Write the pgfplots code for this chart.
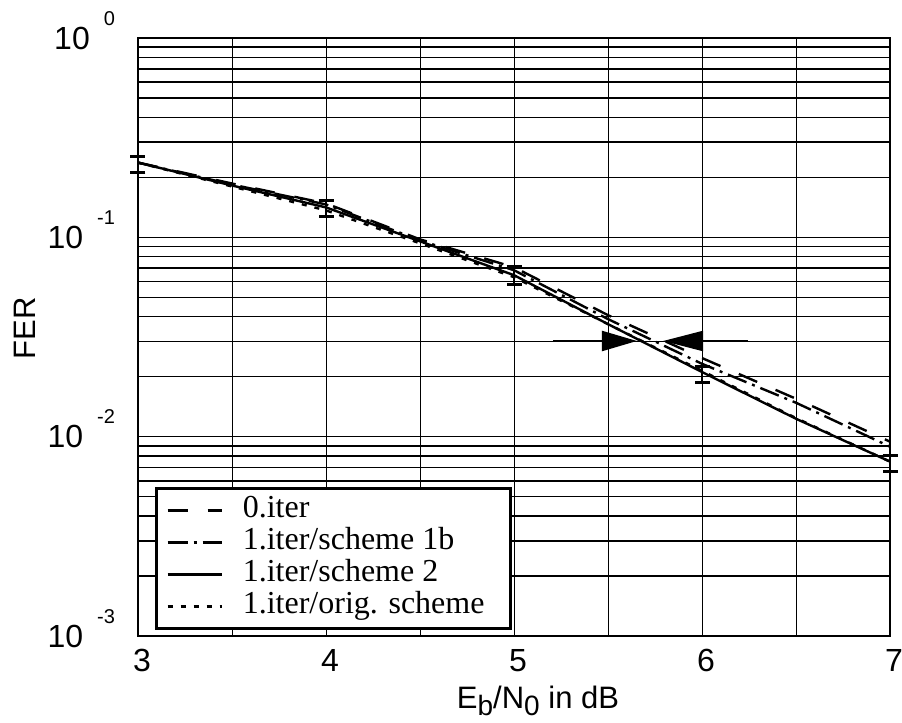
\documentclass[border=0pt]{standalone}
\usepackage{fontspec}
\setmainfont{Liberation Sans}
\newfontfamily\legendfont{Liberation Serif}
\usepackage{pgfplots}
\pgfplotsset{compat=1.18}
\usetikzlibrary{arrows.meta}

\newcommand{\tenexp}[1]{10\hspace{7pt}\raisebox{12pt}[0pt][0pt]{\fontsize{10}{12}\selectfont #1}}

\begin{document}
\begin{tikzpicture}
\begin{axis}[
    scale only axis,
    width=376pt, height=299pt,
    xmin=3, xmax=7,
    ymode=log, ymin=1e-3, ymax=1,
    clip=false,
    axis line style={line width=0.85pt},
    xtick={3,4,5,6,7}, xticklabels={3,4,5,6,7},
    minor xtick={3.5,4.5,5.5,6.5},
    ytick={1e-3,1e-2,1e-1,1},
    yticklabels={\tenexp{-3},\tenexp{-2},\tenexp{-1},\tenexp{0}},
    minor ytick={0.002,0.003,0.004,0.005,0.006,0.007,0.008,0.009,
                 0.02,0.03,0.04,0.05,0.06,0.07,0.08,0.09,
                 0.2,0.3,0.4,0.5,0.6,0.7,0.8,0.9},
    major tick length=0pt, minor tick length=0pt,
    xmajorgrids, xminorgrids, ymajorgrids, yminorgrids,
    x grid style={black, line width=0.5pt},
    y grid style={black, line width=0.8pt},
    tick label style={font=\fontsize{16}{19}\selectfont},
    xticklabel style={yshift=-3pt, xshift=2pt},
    yticklabel style={xshift=-8pt},
    xlabel={E\raisebox{-3.5pt}{\fontsize{14}{16}\selectfont b}/N\raisebox{-3.5pt}{\fontsize{14}{16}\selectfont 0} in dB},
    ylabel={FER},
    every axis x label/.style={at={(axis description cs:0.5,0)}, anchor=base, yshift=-36pt, xshift=12pt, font=\fontsize{15.5}{18}\selectfont},
    every axis y label/.style={at={(axis description cs:-0.150,0.515)}, anchor=center, rotate=90, font=\fontsize{15.5}{18}\selectfont},
    legend style={at={(rel axis cs:0.0226,0.01)}, anchor=south west,
        draw=black, line width=1.4pt, fill=white,
        font=\legendfont\fontsize{16}{18}\selectfont,
        inner xsep=5pt, inner ysep=3pt, row sep=0pt,
        nodes={inner sep=1pt, text height=10.5pt, text depth=3.5pt},
        /tikz/every odd column/.append style={column sep=9pt}},
    legend cell align=left,
    legend image code/.code={\draw[#1, line width=1.2pt] (0pt,0pt) -- (27pt,0pt);},
]
% 0.iter
\addplot[black, line width=1.2pt, dash pattern=on 10pt off 10pt] coordinates {
    (3,0.2371) (3.5,0.1862) (4,0.1479) (4.5,0.0977) (5,0.0708)
    (5.5,0.0407) (6,0.0248) (6.5,0.0155) (7,0.00944)
};
% 1.iter/scheme 1b
\addplot[black, line width=1.2pt, dash pattern=on 10pt off 3pt on 1.5pt off 3pt] coordinates {
    (3,0.2371) (3.5,0.1841) (4,0.1462) (4.5,0.0966) (5,0.0684)
    (5.5,0.0389) (6,0.0232) (6.5,0.0148) (7,0.00891)
};
% 1.iter/scheme 2
\addplot[black, line width=1.2pt] coordinates {
    (3,0.2371) (3.5,0.1820) (4,0.1413) (4.5,0.0955) (5,0.0646)
    (5.5,0.0367) (6,0.0211) (6.5,0.0123) (7,0.00750)
};
% 1.iter/orig. scheme
\addplot[black, line width=1.2pt, dash pattern=on 2.5pt off 4pt] coordinates {
    (3,0.2371) (3.5,0.1799) (4,0.1365) (4.5,0.0933) (5,0.0631)
    (5.5,0.0367) (6,0.0214) (6.5,0.0124) (7,0.00750)
};
% error bars
\addplot[forget plot, draw=none, mark=none,
    error bars/.cd, y dir=both, y explicit,
    error bar style={draw=black, solid, line width=0.9pt},
    error mark options={draw=black, solid, rotate=90, mark size=3.75pt, line width=1.5pt}]
coordinates {
    (3,0.232) += (0,0.022) -= (0,0.021)
    (4,0.140) += (0,0.013) -= (0,0.013)
    (5,0.0646) += (0,0.0070) -= (0,0.0064)
    (6,0.0205) += (0,0.0021) -= (0,0.0019)
    (7,0.00733) += (0,0.00071) -= (0,0.00065)
};
% arrows
\addplot[forget plot, black, line width=1.1pt, -{Triangle[length=17.5pt, width=10pt]}]
    coordinates {(5.207,0.0302) (5.654,0.0302)};
\addplot[forget plot, black, line width=1.1pt, -{Triangle[length=20pt, width=10pt]}]
    coordinates {(6.245,0.0302) (5.793,0.0302)};
\legend{0.iter, 1.iter/scheme 1b, 1.iter/scheme 2, 1.iter/orig. scheme\rule{7pt}{0pt}}
\end{axis}
\pgfresetboundingbox
\path ([shift={(-69pt,-43pt)}]current axis.south west) rectangle ([shift={(6pt,19pt)}]current axis.north east);
\end{tikzpicture}
\end{document}
